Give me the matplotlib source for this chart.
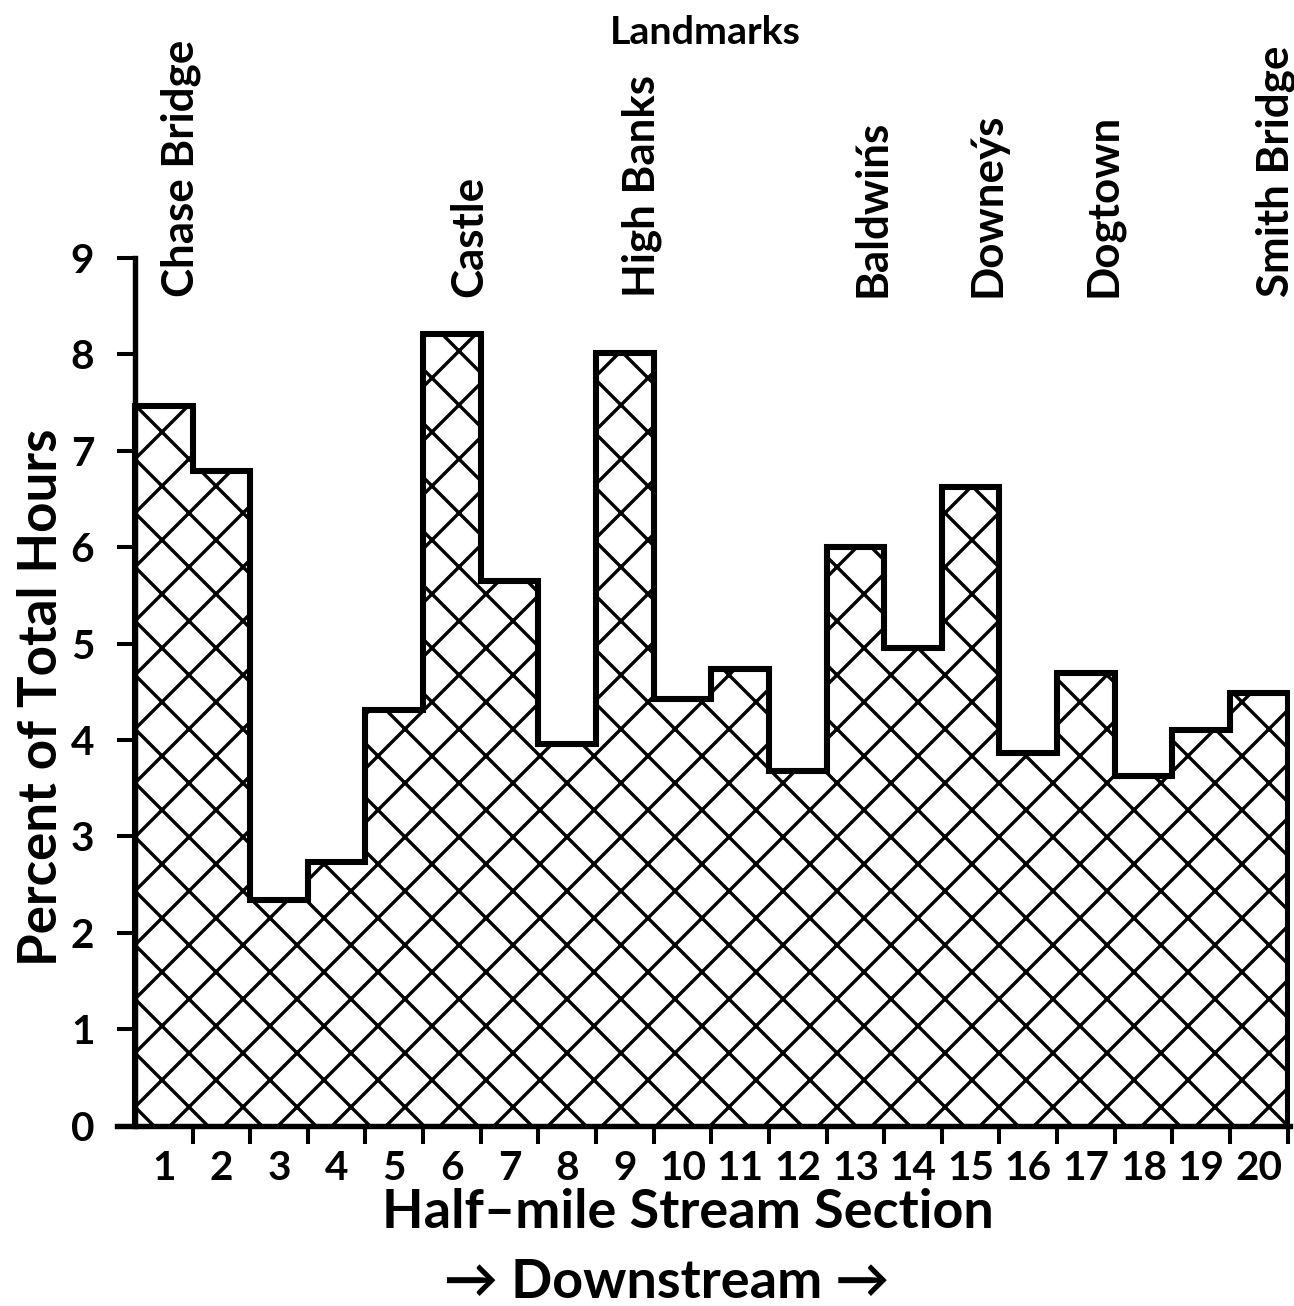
import numpy as np
import matplotlib.pyplot as plt

# percent of total hours per half-mile section
sections = np.arange(1, 21)
percent = [7.47, 6.79, 2.34, 2.73, 4.31, 8.21, 5.65, 3.96, 8.01, 4.42,
           4.74, 3.68, 6.00, 4.95, 6.62, 3.87, 4.70, 3.63, 4.10, 4.49]
yticks = list(range(0, 10))

# landmarks and the section they sit over
landmark_names = ["Chase Bridge", "Castle", "High Banks", "Baldwin\u0301s",
                  "Downey\u0301s", "Dogtown", "Smith Bridge"]
landmark_sections = [1, 6, 9, 13, 15, 17, 20]

plt.rcParams['font.family'] = ['Lato', 'DejaVu Sans']
plt.rcParams['font.weight'] = 'bold'
plt.rcParams['hatch.linewidth'] = 1.5

DPI = 162
fig = plt.figure(figsize=(1294 / DPI, 1306 / DPI), dpi=DPI)
ax = fig.add_axes([117 / 1294, 0.1382, (1290 - 117) / 1294, 0.6642])

edges = np.arange(0.5, 21.5, 1.0)
ax.stairs(percent, edges, baseline=0, fill=True, facecolor='white',
          edgecolor='black', hatch='x', linewidth=0)
ax.stairs(percent, edges, baseline=0, color='black', linewidth=2.7)

ax.set_xlim(0.19, 20.54)
ax.set_ylim(0, 9)

for s in ['top', 'right']:
    ax.spines[s].set_visible(False)
ax.spines['left'].set_position(('data', 0.5))
ax.spines['left'].set_linewidth(2.4)
ax.spines['bottom'].set_linewidth(2.4)

ax.set_yticks(yticks)
ax.tick_params(axis='y', length=8, width=1.8, pad=10, labelsize=18)
ax.set_xticks(sections)
ax.set_xticks(edges[1:], minor=True)
ax.tick_params(axis='x', which='major', length=0, pad=11, labelsize=18)
ax.tick_params(axis='x', which='minor', length=8, width=1.8)

for name, sec in zip(landmark_names, landmark_sections):
    ax.text(sec - 0.05, 8.6, name, rotation=90, ha='left', va='bottom',
            fontsize=19.5, clip_on=False)

fig.text(705 / 1294, 1 - 32 / 1306, "Landmarks", ha='center', va='center',
         fontsize=17.5)
fig.text(42 / 1294, 1 - 697 / 1306, "Percent of Total Hours", rotation=90,
         ha='center', va='center', fontsize=23.5)
fig.text(688 / 1294, 1 - 1212 / 1306, "Half\u2013mile Stream Section",
         ha='center', va='center', fontsize=24)
fig.text(667 / 1294, 1 - 1283 / 1306, "\u2192 Downstream \u2192",
         ha='center', va='center', fontsize=24)

fig.savefig("out.png", dpi=DPI)
